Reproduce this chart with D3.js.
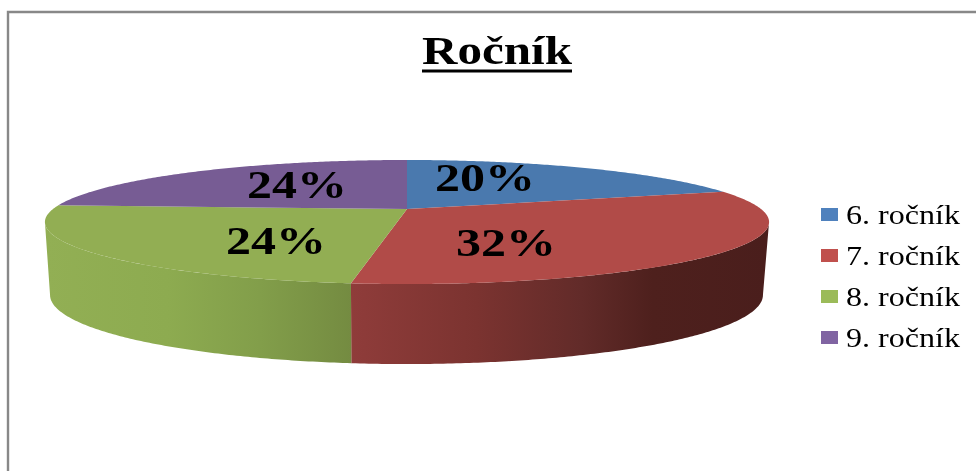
<!DOCTYPE html>
<html>
<head>
<meta charset="utf-8">
<script src="https://cdn.jsdelivr.net/npm/d3@7"></script>
<style>
  html, body { margin: 0; padding: 0; background: #fff; overflow: hidden; }
  text { font-family: "Liberation Serif", serif; fill: #000; }
</style>
</head>
<body>
<script>
const categories = ["6. ročník", "7. ročník", "8. ročník", "9. ročník"];
const shares = [20, 32, 24, 24];
const chartTitle = "Ročník";

const topColors = ["#4a79ae", "#b14b48", "#92ae53", "#775c94"];
const legendColors = ["#4f81bd", "#c0504d", "#9bbb59", "#8064a2"];

const width = 976;
const height = 471;

// perspective of the disc, top face and bottom face
const tilt = 0.21;
const topFace = { cx: 407, cy: 209, rx: 354, ry: 59.3 };
const bottomFace = { cx: 406.5, cy: 280.5, rx: 348.5, ry: 66 };

// the rim turns away from the viewer at these angles
const rimRight = Math.acos(-tilt);
const rimLeft = 2 * Math.PI - rimRight;

function project(face, angle) {
  const u = Math.sin(angle);
  const v = -Math.cos(angle);
  const k = 1 - tilt * v;
  return [face.cx + face.rx * u / k, face.cy + face.ry * v / k];
}

function sweep(start, end) {
  const steps = Math.ceil((end - start) / 0.01);
  return d3.range(steps + 1).map(i => start + (end - start) * i / steps);
}

const svg = d3.select("body")
  .append("svg")
  .attr("width", width)
  .attr("height", height)
  .attr("viewBox", [0, 0, width, height])
  .style("display", "block");

const defs = svg.append("defs");

defs.append("filter")
  .attr("id", "soft")
  .append("feGaussianBlur")
  .attr("stdDeviation", 0.45);

const wallGradients = [
  { id: "wall-red", x1: 352, x2: 769, stops: [[0, "#8f3c3a"], [0.3, "#7b3330"], [0.55, "#622b29"], [0.72, "#4e201d"], [1, "#4a1e1c"]] },
  { id: "wall-green", x1: 45, x2: 352, stops: [[0, "#92af54"], [0.4, "#8dab50"], [0.7, "#829e4a"], [1, "#748b41"]] }
];

wallGradients.forEach(g => {
  defs.append("linearGradient")
    .attr("id", g.id)
    .attr("gradientUnits", "userSpaceOnUse")
    .attr("x1", g.x1).attr("x2", g.x2)
    .attr("y1", 0).attr("y2", 0)
    .selectAll("stop")
    .data(g.stops)
    .join("stop")
    .attr("offset", d => d[0])
    .attr("stop-color", d => d[1]);
});

// frame, only top and left edges are in the picture
svg.append("path")
  .attr("d", d3.line()([[8, height], [8, 12], [width, 12]]))
  .attr("fill", "none")
  .attr("stroke", "#888888")
  .attr("stroke-width", 2.4);

const pie = d3.pie().sort(null).value(d => d);
const slices = pie(shares);
const line = d3.line();
const percent = d => d3.format(".0%")(d / d3.sum(shares));

// side walls, only 7. and 8. face the viewer
const wallFill = [null, "url(#wall-red)", "url(#wall-green)", null];

svg.append("g")
  .selectAll("path")
  .data(slices.filter(d => wallFill[d.index]))
  .join("path")
  .attr("d", d => {
    const angles = sweep(Math.max(d.startAngle, rimRight), Math.min(d.endAngle, rimLeft));
    const upper = angles.map(a => project(topFace, a));
    const lower = angles.map(a => project(bottomFace, a)).reverse();
    return line(upper.concat(lower)) + "Z";
  })
  .attr("fill", d => wallFill[d.index]);

// top face
svg.append("g")
  .selectAll("path")
  .data(slices)
  .join("path")
  .attr("d", d => {
    const rim = sweep(d.startAngle, d.endAngle).map(a => project(topFace, a));
    return line([[topFace.cx, topFace.cy]].concat(rim)) + "Z";
  })
  .attr("fill", (d, i) => topColors[i]);

// value labels
const labelSpots = [[435, 191], [456, 256], [226, 254], [247, 198]];

const labels = svg.append("g").attr("filter", "url(#soft)");

labels.selectAll("text")
  .data(shares)
  .join("text")
  .attr("x", (d, i) => labelSpots[i][0])
  .attr("y", (d, i) => labelSpots[i][1])
  .attr("font-size", 41)
  .attr("font-weight", "bold")
  .attr("textLength", 100)
  .attr("lengthAdjust", "spacingAndGlyphs")
  .text(percent);

// title
const titleGroup = svg.append("g").attr("filter", "url(#soft)");

titleGroup.append("text")
  .attr("x", 422)
  .attr("y", 64)
  .attr("font-size", 40)
  .attr("font-weight", "bold")
  .attr("textLength", 150)
  .attr("lengthAdjust", "spacingAndGlyphs")
  .text(chartTitle);

titleGroup.append("line")
  .attr("x1", 422)
  .attr("x2", 572)
  .attr("y1", 71)
  .attr("y2", 71)
  .attr("stroke", "#000")
  .attr("stroke-width", 3);

// legend
const legendY = d3.scalePoint()
  .domain(categories)
  .range([224, 347]);

const legend = svg.append("g")
  .selectAll("g")
  .data(categories)
  .join("g")
  .attr("transform", d => `translate(0,${legendY(d)})`);

legend.append("rect")
  .attr("x", 821)
  .attr("y", -16)
  .attr("width", 17)
  .attr("height", 13)
  .attr("fill", (d, i) => legendColors[i]);

legend.append("text")
  .attr("x", 846)
  .attr("font-size", 27)
  .attr("textLength", 114)
  .attr("lengthAdjust", "spacingAndGlyphs")
  .attr("filter", "url(#soft)")
  .text(d => d);
</script>
</body>
</html>
